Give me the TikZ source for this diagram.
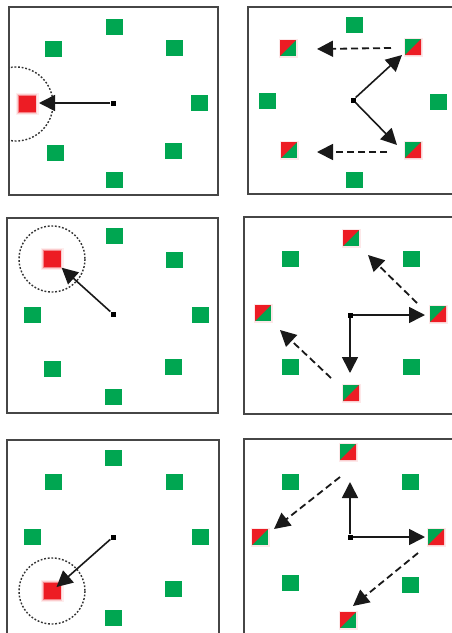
\documentclass[tikz,border=0pt]{standalone}
\usetikzlibrary{arrows.meta,calc}
\definecolor{sqgreen}{RGB}{0,166,81}
\definecolor{sqred}{RGB}{237,28,36}
\definecolor{framegray}{RGB}{70,70,70}
\tikzset{
  sqbase/.style={rectangle, inner sep=0pt, minimum width=17pt, minimum height=16pt, draw=none},
  gsq/.style={sqbase, fill=sqgreen},
  rsq/.style={sqbase, fill=sqred,
    preaction={draw=sqred!8, line width=6pt},
    preaction={draw=sqred!22, line width=3.5pt},
    preaction={draw=sqred!55, line width=1.5pt}},
  rgsq/.style={sqbase, minimum width=16pt, preaction={draw=sqred!10, line width=3pt},
    path picture={
      \fill[sqgreen] (path picture bounding box.south west) rectangle (path picture bounding box.north east);
      \fill[sqred] (path picture bounding box.south west) -- (path picture bounding box.north west) -- (path picture bounding box.north east) -- cycle;}},
  grsq/.style={sqbase, minimum width=16pt, preaction={draw=sqred!10, line width=3pt},
    path picture={
      \fill[sqgreen] (path picture bounding box.south west) rectangle (path picture bounding box.north east);
      \fill[sqred] (path picture bounding box.south west) -- (path picture bounding box.south east) -- (path picture bounding box.north east) -- cycle;}},
  ctr/.style={rectangle, fill=black, inner sep=0pt, minimum size=5pt},
  frame/.style={draw=framegray, line width=1.7pt},
  arr/.style={draw=black!90, line width=1.6pt, -{Triangle[length=16pt,width=16pt]}},
  darr/.style={arr, line width=1.8pt, dash pattern=on 7pt off 4pt},
  ring/.style={draw=black!80, line width=1.4pt, dash pattern=on 1.8pt off 1.8pt},
}
\begin{document}
\begin{tikzpicture}[x=1pt,y=-1pt]
\clip (0,0) rectangle (452,633);
\fill[white] (0,0) rectangle (452,633);

% frames
\draw[frame] (9,7) rectangle (218,195);
\draw[frame] (248,7) rectangle (470,194);
\draw[frame] (7,218) rectangle (218,413);
\draw[frame] (244,217) rectangle (470,414);
\draw[frame] (7,440) rectangle (219,650);
\draw[frame] (244,439) rectangle (470,650);

% ---------- panel 1 ----------
\begin{scope}
\clip (9,7) rectangle (218,195);
\draw[ring] (16,104) circle[radius=37];
\end{scope}
\node[gsq] (t1) at (114,27) {};
\node[gsq] (ul1) at (53,49) {};
\node[gsq] (ur1) at (174,48) {};
\node[gsq] (r1) at (199,103) {};
\node[rsq] (l1) at (27,104) {};
\node[gsq] (ll1) at (55,153) {};
\node[gsq] (lr1) at (173,151) {};
\node[gsq] (b1) at (114,180) {};
\node[ctr] (c1) at (113,103) {};
\draw[arr, shorten >=12pt] (c1) -- (c1 -| l1);

% ---------- panel 2 ----------
\node[gsq] (t2) at (354,25) {};
\node[rgsq] (ul2) at (288,48) {};
\node[grsq] (ur2) at (413,47) {};
\node[gsq] (l2) at (267,101) {};
\node[gsq] (r2) at (438,102) {};
\node[rgsq] (ll2) at (289,150) {};
\node[grsq] (lr2) at (413,150) {};
\node[gsq] (b2) at (354,180) {};
\node[ctr] (c2) at (353,100) {};
\draw[arr] (c2) -- ([shift={(-11,8)}]ur2.center);
\draw[arr] (c2) -- ([shift={(-16,-5)}]lr2.center);
\draw[darr] ([shift={(-22,1)}]ur2.center) -- ([shift={(29,1)}]ul2.center);
\draw[darr] ([shift={(-26,2)}]lr2.center) -- ([shift={(28,2)}]ll2.center);

% ---------- panel 3 ----------
\node[gsq] (t3) at (114,236) {};
\node[rsq] (ul3) at (52,259) {};
\node[gsq] (ur3) at (174,260) {};
\node[gsq] (l3) at (32,315) {};
\node[gsq] (r3) at (200,315) {};
\node[gsq] (ll3) at (52,369) {};
\node[gsq] (lr3) at (173,367) {};
\node[gsq] (b3) at (113,397) {};
\node[ctr] (c3) at (113,314) {};
\draw[ring] (ul3.center) circle[radius=33];
\draw[arr, shorten >=13pt] (c3) -- (ul3.center);

% ---------- panel 4 ----------
\node[rgsq] (t4) at (351,238) {};
\node[gsq] (ul4) at (290,259) {};
\node[gsq] (ur4) at (411,259) {};
\node[rgsq] (l4) at (263,313) {};
\node[grsq] (r4) at (438,314) {};
\node[gsq] (ll4) at (290,367) {};
\node[gsq] (lr4) at (411,367) {};
\node[grsq] (b4) at (351,393) {};
\node[ctr] (c4) at (350,315) {};
\draw[arr, shorten >=13pt] (c4) -- (c4 -| r4);
\draw[arr, shorten >=20pt] (c4) -- (c4 |- b4);
\draw[darr] ([shift={(-21,-11)}]r4.center) -- ([shift={(17,17)}]t4.center);
\draw[darr] ([shift={(-20,-15)}]b4.center) -- ([shift={(17,17)}]l4.center);

% ---------- panel 5 ----------
\node[gsq] (t5) at (113,458) {};
\node[gsq] (ul5) at (53,482) {};
\node[gsq] (ur5) at (174,482) {};
\node[gsq] (l5) at (32,537) {};
\node[gsq] (r5) at (200,537) {};
\node[rsq] (ll5) at (52,591) {};
\node[gsq] (lr5) at (173,589) {};
\node[gsq] (b5) at (113,618) {};
\node[ctr] (c5) at (113,537) {};
\draw[ring] (ll5.center) circle[radius=33];
\draw[arr, shorten >=6pt] (c5) -- (ll5.center);

% ---------- panel 6 ----------
\node[grsq] (t6) at (348,452) {};
\node[gsq] (ul6) at (290,482) {};
\node[gsq] (ur6) at (410,482) {};
\node[rgsq] (l6) at (260,537) {};
\node[grsq] (r6) at (436,537) {};
\node[gsq] (ll6) at (290,583) {};
\node[gsq] (lr6) at (410,585) {};
\node[rgsq] (b6) at (348,620) {};
\node[ctr] (c6) at (350,537) {};
\draw[arr, shorten >=30pt] (c6) -- (c6 |- t6);
\draw[arr, shorten >=11pt] (c6) -- (c6 -| r6);
\draw[darr] ([shift={(-8,25)}]t6.center) -- ([shift={(14,-8)}]l6.center);
\draw[darr] ([shift={(-18,16)}]r6.center) -- ([shift={(5,-14)}]b6.center);
\end{tikzpicture}
\end{document}
